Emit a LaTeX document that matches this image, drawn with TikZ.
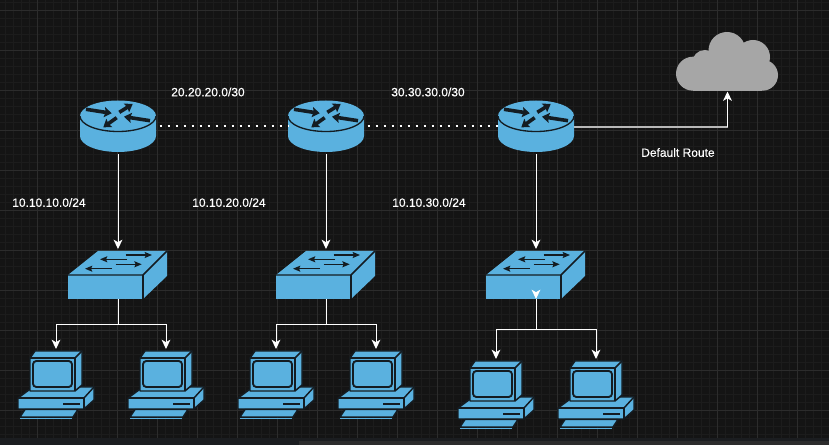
\documentclass[tikz,border=0pt]{standalone}
\usepackage{fontspec}
\setmainfont{Liberation Sans}
\newfontfamily\labelfont[FakeBold=0.35]{Liberation Sans}
\usetikzlibrary{arrows.meta,calc}
\definecolor{bgc}{HTML}{141414}
\definecolor{minorg}{HTML}{1C1C1C}
\definecolor{majorg}{HTML}{2C2C2C}
\definecolor{devfill}{HTML}{5AB1DF}
\definecolor{devline}{HTML}{141C22}
\definecolor{cloudc}{HTML}{A6A6A6}
\definecolor{bandc}{HTML}{1B1D20}
\tikzset{
  x=0.75pt,y=-0.75pt,
  devface/.style={fill=devfill,draw=devline,line width=1.1pt,line join=round},
  devlab/.style={font=\labelfont\fontsize{9pt}{11pt}\selectfont,text=white,inner sep=0pt},
  anchorbox/.style={inner sep=0pt,minimum width=0pt},
  wire/.style={draw=white,line width=0.75pt},
  wirearrow/.style={wire,-{Stealth[length=7pt,width=6.6pt,inset=1.9pt]}},
  linkdot/.style={draw=white,line width=1.6pt,dash pattern=on 1.6pt off 4.4pt,shorten <=2.5pt},
  pics/routerpic/.style={code={
    \fill[devfill] (-38,-10) -- (-38,10) arc[start angle=180,end angle=0,x radius=38,y radius=16] -- (38,-10) -- cycle;
    \fill[devfill] (0,-10) ellipse[x radius=38,y radius=15.5];
    \draw[devline,line width=1pt] (-38,-10) arc[start angle=180,end angle=0,x radius=38,y radius=15.5];
    \foreach \xa/\ya/\xb/\yb in {-32/-16.7/-6.3/-12.7, 1.3/-13.7/14.7/-22, 32/-5.3/6/-9.3, -1.3/-8.3/-14.7/1.3}{
      \draw[devline,line width=2.7pt,-{Stealth[length=5.5pt,width=7.5pt,inset=0.8pt]}] (\xa,\ya) -- (\xb,\yb);
    }
  }},
  pics/switchpic/.style={code={
    \fill[devfill] (-50,0) -- (-20,-24) -- (49,-24) -- (25,0) -- cycle;
    \fill[devfill] (25,0) -- (49,-24) -- (49,1) -- (25,24) -- cycle;
    \fill[devfill] (-50,0) rectangle (25,24);
    \draw[devline,line width=1.1pt] (-50,0) -- (25,0) -- (49,-24);
    \draw[devline,line width=1.1pt] (25,0) -- (25,24);
    \foreach \xa/\xb/\yy in {7.7/34/-20, 9/-18/-15.7, -2.3/23.7/-10.7, -6/-33/-6.3}{
      \draw[devline,line width=1pt,-{Stealth[length=5.5pt,width=4.5pt,inset=1pt]}] (\xa,\yy) -- (\xb,\yy);
    }
  }},
  pics/pcpic/.style={code={
    \path[devface] (18,398) -- (33,387) -- (94,387) -- (94,400) -- (84,409) -- (18,409) -- cycle;
    \draw[devline,line width=1.1pt] (18,398) -- (84,398) -- (84,409);
    \draw[devline,line width=1.1pt] (84,398) -- (94,387);
    \draw[devline,line width=1.3pt] (63,404) -- (80,404);
    \path[devface] (30,358) -- (35,351) -- (82,351) -- (82,385) -- (75,391) -- (30,391) -- cycle;
    \draw[devline,line width=1.1pt] (30,358) -- (75,358) -- (75,391);
    \draw[devline,line width=1.1pt] (75,358) -- (82,351);
    \draw[devline,line width=1.4pt,rounded corners=2.5pt] (33,361) rectangle (72,387);
    \path[devface] (25,409.5) -- (78,409.5) -- (73,417) -- (20,417) -- cycle;
    \draw[devfill,line width=0.9pt] (20,418.5) -- (72,418.5);
  }}
}
\begin{document}
\begin{tikzpicture}
\useasboundingbox (0,0) rectangle (829,445);
\fill[bgc] (0,0) rectangle (829,445);
% grid
\foreach \gx in {5,13,...,829}{\draw[minorg,line width=0.5pt] (\gx,0) -- (\gx,438);}
\foreach \gy in {2,10,...,438}{\draw[minorg,line width=0.5pt] (0,\gy) -- (829,\gy);}
\foreach \gx in {37,77,...,829}{\draw[majorg,line width=0.6pt] (\gx,0) -- (\gx,438);}
\foreach \gy in {10,50,...,438}{\draw[majorg,line width=0.6pt] (0,\gy) -- (829,\gy);}
\fill[bandc] (0,438) rectangle (829,445);
\fill[majorg] (299,441) rectangle (829,445);
% routers
\foreach \rname/\rx in {r1/118,r2/326,r3/536}{
  \pic at (\rx,126) {routerpic};
  \node[anchorbox,minimum width=57pt,minimum height=42pt] (\rname) at (\rx,126) {};
}
% switches
\foreach \sname/\sx in {s1/118,s2/326,s3/536}{
  \pic at (\sx,275) {switchpic};
  \coordinate (\sname t) at (\sx,249);
  \coordinate (\sname b) at (\sx,299);
}
% pcs
\foreach \pname/\ox/\oy/\tx in {p1/0/0/56,p2/110/0/166,p3/220/0/276,p4/320/0/376,p5/440/10/496,p6/540/10/596}{
  \begin{scope}[shift={(\ox,\oy)}]
    \pic {pcpic};
  \end{scope}
  \coordinate (\pname) at (\tx,349+\oy);
}
% cloud
\fill[cloudc] (693,73.7) circle[radius=17];
\fill[cloudc] (705,63) circle[radius=13];
\fill[cloudc] (727,50.5) circle[radius=18.5];
\fill[cloudc] (753,57) circle[radius=17];
\fill[cloudc] (762.5,75.2) circle[radius=15.5];
\fill[cloudc] (693,60) rectangle (762,90.7);
\coordinate (cloud) at (727.5,91.5);
% links
\draw[linkdot] (r1.east) -- (r2.west);
\draw[linkdot] (r2.east) -- (r3.west);
\draw[wirearrow] (r1.south) -- (s1t);
\draw[wirearrow] (r2.south) -- (s2t);
\draw[wirearrow] (r3.south) -- (s3t);
\draw[wire] (s1b) -- ++(0,26) coordinate (j1);
\draw[wirearrow] (j1) -| (p1);
\draw[wirearrow] (j1) -| (p2);
\draw[wire] (s2b) -- ++(0,26) coordinate (j2);
\draw[wirearrow] (j2) -| (p3);
\draw[wirearrow] (j2) -| (p4);
\draw[wirearrow] ($(s3b)+(0,-7)$) -- (s3b);
\draw[wire] (s3b) -- ++(0,31) coordinate (j3);
\draw[wirearrow] (j3) -| (p5);
\draw[wirearrow] (j3) -| (p6);
\coordinate (dr) at (727.5,126.8);
\draw[draw=white!72!black,line width=1.2pt] (r3.east |- dr) -- (dr);
\draw[wirearrow] (dr) -- (cloud);
% labels
\node[devlab,anchor=west] (l1) at (171,92) {20.20.20.0/30};
\node[devlab,anchor=west] (l2) at (391,92) {30.30.30.0/30};
\node[devlab,anchor=west] (l3) at (641,152.5) {Default Route};
\node[devlab,anchor=west] (l4) at (12,202.5) {10.10.10.0/24};
\node[devlab,anchor=west] (l5) at (192,202.5) {10.10.20.0/24};
\node[devlab,anchor=west] (l6) at (392,202.5) {10.10.30.0/24};
\end{tikzpicture}
\end{document}
